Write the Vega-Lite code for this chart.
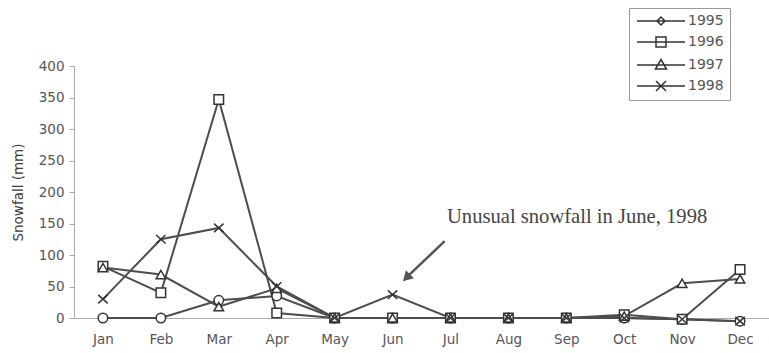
{
  "$schema": "https://vega.github.io/schema/vega-lite/v6.json",
  "width": 695,
  "height": 252,
  "autosize": {"type": "none"},
  "padding": {"left": 74, "top": 66, "right": 0, "bottom": 35},
  "background": "white",
  "config": {
    "view": {"stroke": null},
    "font": "DejaVu Sans",
    "axis": {"grid": false, "domainColor": "#aaa", "tickColor": "#aaa", "labelColor": "#555", "labelFont": "DejaVu Sans", "labelFontSize": 13.5, "titleColor": "#3a3a3a", "labelOverlap": false}
  },
  "datasets": {
    "snow": [
      {"year": "1995", "m": 1, "month": "Jan", "snow": 0},
      {"year": "1995", "m": 2, "month": "Feb", "snow": 0},
      {"year": "1995", "m": 3, "month": "Mar", "snow": 28},
      {"year": "1995", "m": 4, "month": "Apr", "snow": 35},
      {"year": "1995", "m": 5, "month": "May", "snow": 0},
      {"year": "1995", "m": 6, "month": "Jun", "snow": 0},
      {"year": "1995", "m": 7, "month": "Jul", "snow": 0},
      {"year": "1995", "m": 8, "month": "Aug", "snow": 0},
      {"year": "1995", "m": 9, "month": "Sep", "snow": 0},
      {"year": "1995", "m": 10, "month": "Oct", "snow": 0},
      {"year": "1995", "m": 11, "month": "Nov", "snow": -2},
      {"year": "1995", "m": 12, "month": "Dec", "snow": -5},
      {"year": "1996", "m": 1, "month": "Jan", "snow": 82},
      {"year": "1996", "m": 2, "month": "Feb", "snow": 40},
      {"year": "1996", "m": 3, "month": "Mar", "snow": 347},
      {"year": "1996", "m": 4, "month": "Apr", "snow": 8},
      {"year": "1996", "m": 5, "month": "May", "snow": 0},
      {"year": "1996", "m": 6, "month": "Jun", "snow": 0},
      {"year": "1996", "m": 7, "month": "Jul", "snow": 0},
      {"year": "1996", "m": 8, "month": "Aug", "snow": 0},
      {"year": "1996", "m": 9, "month": "Sep", "snow": 0},
      {"year": "1996", "m": 10, "month": "Oct", "snow": 5},
      {"year": "1996", "m": 11, "month": "Nov", "snow": -2},
      {"year": "1996", "m": 12, "month": "Dec", "snow": 77},
      {"year": "1997", "m": 1, "month": "Jan", "snow": 80},
      {"year": "1997", "m": 2, "month": "Feb", "snow": 69},
      {"year": "1997", "m": 3, "month": "Mar", "snow": 18},
      {"year": "1997", "m": 4, "month": "Apr", "snow": 47},
      {"year": "1997", "m": 5, "month": "May", "snow": 0},
      {"year": "1997", "m": 6, "month": "Jun", "snow": 0},
      {"year": "1997", "m": 7, "month": "Jul", "snow": 0},
      {"year": "1997", "m": 8, "month": "Aug", "snow": 0},
      {"year": "1997", "m": 9, "month": "Sep", "snow": 0},
      {"year": "1997", "m": 10, "month": "Oct", "snow": 3},
      {"year": "1997", "m": 11, "month": "Nov", "snow": 55},
      {"year": "1997", "m": 12, "month": "Dec", "snow": 62},
      {"year": "1998", "m": 1, "month": "Jan", "snow": 30},
      {"year": "1998", "m": 2, "month": "Feb", "snow": 125},
      {"year": "1998", "m": 3, "month": "Mar", "snow": 143},
      {"year": "1998", "m": 4, "month": "Apr", "snow": 50},
      {"year": "1998", "m": 5, "month": "May", "snow": 0},
      {"year": "1998", "m": 6, "month": "Jun", "snow": 37},
      {"year": "1998", "m": 7, "month": "Jul", "snow": 0},
      {"year": "1998", "m": 8, "month": "Aug", "snow": 0},
      {"year": "1998", "m": 9, "month": "Sep", "snow": 0},
      {"year": "1998", "m": 10, "month": "Oct", "snow": 0},
      {"year": "1998", "m": 11, "month": "Nov", "snow": -2},
      {"year": "1998", "m": 12, "month": "Dec", "snow": -5}
    ],
    "note": [{"m": 6.94, "snow": 160, "label": "Unusual snowfall in June, 1998"}],
    "arrow": [{"m": 6.9, "snow": 122, "m2": 6.26, "snow2": 66}],
    "head": [{"m": 6.24, "snow": 64}]
  },
  "encoding": {
    "x": {"field": "m", "type": "quantitative", "scale": {"domain": [0.5, 12.5], "nice": false, "zero": false},
      "axis": {"values": [1,2,3,4,5,6,7,8,9,10,11,12], "title": null, "ticks": false, "labelPadding": 14, "labelOverlap": false,
        "labelExpr": "['Jan','Feb','Mar','Apr','May','Jun','Jul','Aug','Sep','Oct','Nov','Dec'][datum.value-1]"}},
    "y": {"field": "snow", "type": "quantitative", "scale": {"domain": [0, 400], "nice": false, "zero": false},
      "axis": {"values": [0,50,100,150,200,250,300,350,400], "labelOverlap": false, "title": "Snowfall (mm)", "titleFont": "DejaVu Sans", "titleFontSize": 13.5, "titleFontWeight": "normal", "tickSize": 5, "labelPadding": 5, "titlePadding": 13}}
  },
  "resolve": {"scale": {"shape": "independent"}, "legend": {"shape": "independent"}},
  "layer": [
    {
      "data": {"name": "snow"},
      "mark": {"type": "line", "color": "#4d4d4d", "strokeWidth": 2},
      "encoding": {"detail": {"field": "year"}}
    },
    {
      "data": {"name": "snow"},
      "mark": {"type": "point", "fill": "white", "fillOpacity": 1, "color": "#333", "strokeWidth": 1.5, "size": 90, "opacity": 1},
      "encoding": {
        "shape": {"field": "year", "type": "nominal",
          "scale": {"domain": ["1995","1996","1997","1998"], "range": ["circle", "square", "triangle-up", "M-1,-0.9L1,0.9M-1,0.9L1,-0.9"]},
          "legend": null}
      }
    },
    {
      "data": {"name": "snow"},
      "mark": {"type": "point", "fill": "white", "fillOpacity": 1, "color": "#333", "strokeWidth": 1.5, "opacity": 1, "clip": true},
      "encoding": {
        "y": {"datum": -1000},
        "shape": {"field": "year", "type": "nominal",
          "scale": {"domain": ["1995","1996","1997","1998"], "range": [
            "M-1,0L8.6,0M3,0L3.8,-0.8L4.6,0L3.8,0.8Z",
            "M-1,0L8.6,0M2.8,-1L4.8,-1L4.8,1L2.8,1Z",
            "M-1,0L8.6,0M3.8,-1.1L4.9,0.8L2.7,0.8Z",
            "M-1,0L8.6,0M2.8,-1L4.8,1M2.8,1L4.8,-1"]},
          "legend": {
            "title": null, "orient": "none", "legendX": 555, "legendY": -58,
            "strokeColor": "#999", "padding": 6, "rowPadding": 6, "labelOffset": 39,
            "labelFont": "DejaVu Sans", "labelFontSize": 14, "labelColor": "#555"
          }}
      }
    },
    {
      "data": {"name": "arrow"},
      "mark": {"type": "rule", "color": "#555", "strokeWidth": 2.5},
      "encoding": {
        "x2": {"field": "m2"},
        "y2": {"field": "snow2"}
      }
    },
    {
      "data": {"name": "head"},
      "mark": {"type": "point", "shape": "triangle-up", "filled": true, "color": "#555", "size": 130, "angle": 225, "opacity": 1}
    },
    {
      "data": {"name": "note"},
      "mark": {"type": "text", "font": "Liberation Serif", "fontSize": 20.6, "color": "#444", "align": "left", "baseline": "middle"},
      "encoding": {
        "text": {"field": "label"}
      }
    }
  ]
}
